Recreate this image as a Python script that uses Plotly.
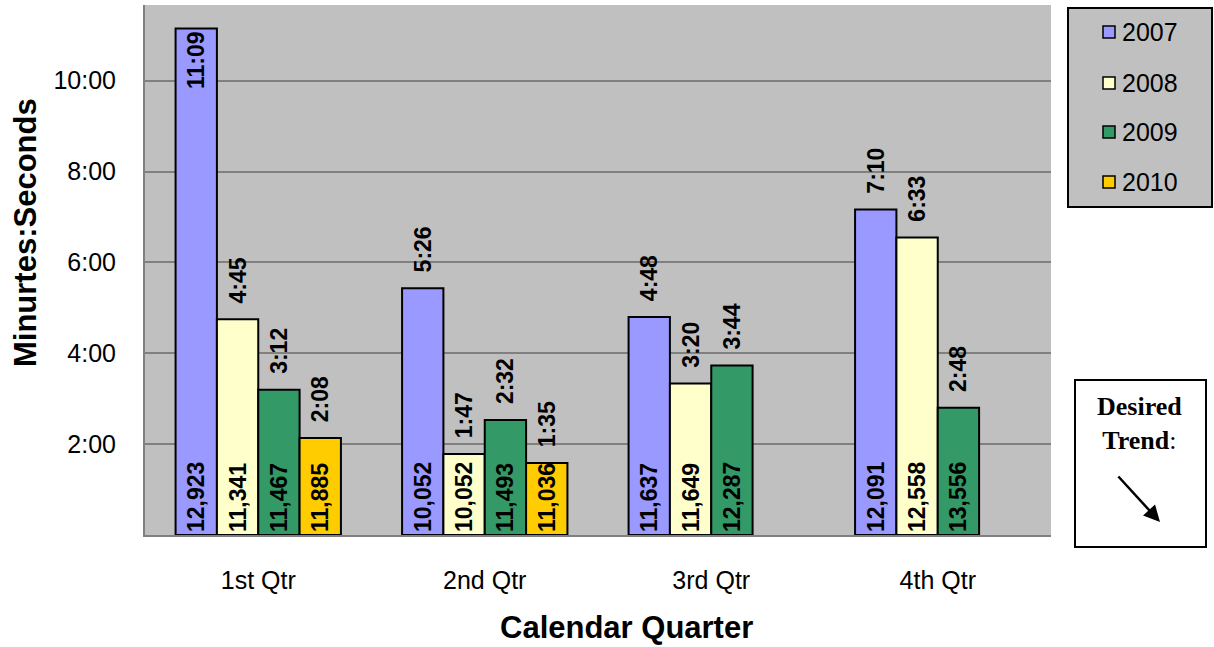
import plotly.graph_objects as go

# ---------------- data ----------------
quarters = ["1st Qtr", "2nd Qtr", "3rd Qtr", "4th Qtr"]
years = ["2007", "2008", "2009", "2010"]
# average time (seconds) per quarter
secs_2007 = [669, 326, 288, 430]
secs_2008 = [285, 107, 200, 393]
secs_2009 = [192, 152, 224, 168]
secs_2010 = [128, 95, None, None]
# call counts per quarter
count_2007 = [12923, 10052, 11637, 12091]
count_2008 = [11341, 10052, 11649, 12558]
count_2009 = [11467, 11493, 12287, 13556]
count_2010 = [11885, 11036, None, None]
ytick_vals = [120, 240, 360, 480, 600]
ytick_text = ["2:00", "4:00", "6:00", "8:00", "10:00"]

secs = [secs_2007, secs_2008, secs_2009, secs_2010]
counts = [count_2007, count_2008, count_2009, count_2010]
colors = ["#9999FF", "#FFFFCC", "#339966", "#FFCC00"]
Y_MAX = 700

FONT = "Liberation Sans, Arial, sans-serif"
SERIF = "Liberation Serif, Times New Roman, serif"

# plot-area pixel frame
L, R, T, B = 145, 1051, 5, 535
def px(x):
    return (x - L) / (R - L)
def py(y):
    return (B - y) / (B - T)

def mmss(s):
    return "" if s is None else f"{s // 60}:{s % 60:02d}"

fig = go.Figure()
for i, yr in enumerate(years):
    vals = secs[i]
    labels = []
    pos = []
    for v in vals:
        if v is None:
            labels.append("")
            pos.append("none")
        elif v > 0.85 * Y_MAX:
            labels.append(mmss(v))
            pos.append("inside")
        else:
            labels.append("\u00a0\u00a0" + mmss(v))
            pos.append("outside")
    fig.add_trace(go.Bar(
        x=quarters, y=vals, name=yr, offsetgroup=yr,
        marker=dict(color=colors[i], line=dict(color="black", width=2)),
        text=labels, textposition=pos, textangle=-90,
        insidetextanchor="end", constraintext="none", cliponaxis=False,
        textfont=dict(family=FONT, size=23, color="black", weight="bold"),
        showlegend=False,
    ))
    fig.add_trace(go.Bar(
        x=quarters, y=vals, name=yr + " count", offsetgroup=yr,
        marker=dict(color="rgba(0,0,0,0)", line=dict(width=0)),
        text=["" if c is None else f"{c:,}" for c in counts[i]],
        textposition="inside", textangle=-90, insidetextanchor="start",
        constraintext="none", cliponaxis=False,
        textfont=dict(family=FONT, size=23, color="black", weight="bold"),
        showlegend=False, hoverinfo="skip",
    ))

shapes = []
annotations = []

# legend box
shapes.append(dict(type="rect", xref="paper", yref="paper",
                   x0=px(1068), x1=px(1212), y0=py(207), y1=py(8),
                   fillcolor="#C0C0C0", line=dict(color="black", width=2), layer="above"))
for i, (yr, yc) in enumerate(zip(years, [32, 83, 132, 182])):
    shapes.append(dict(type="rect", xref="paper", yref="paper",
                       x0=px(1103), x1=px(1115), y0=py(yc + 6), y1=py(yc - 6),
                       fillcolor=colors[i], line=dict(color="black", width=1.5), layer="above"))
    annotations.append(dict(text=yr, xref="paper", yref="paper", x=px(1120), y=py(yc),
                            xanchor="left", yanchor="middle", showarrow=False,
                            font=dict(family=FONT, size=25, color="black")))

# desired trend box
shapes.append(dict(type="rect", xref="paper", yref="paper",
                   x0=px(1075), x1=px(1206), y0=py(547), y1=py(380),
                   fillcolor="white", line=dict(color="black", width=2), layer="above"))
annotations.append(dict(text="<b>Desired</b><br><b>Trend</b>:", xref="paper", yref="paper",
                        x=px(1139), y=py(423), xanchor="center", yanchor="middle",
                        showarrow=False, align="center",
                        font=dict(family=SERIF, size=26, color="black")))
annotations.append(dict(text="", xref="paper", yref="paper", x=px(1160), y=py(522),
                        ax=-43, ay=-47, showarrow=True, arrowhead=2, arrowsize=1.3,
                        arrowwidth=2.5, arrowcolor="black"))

# axis titles
annotations.append(dict(text="<b>Calendar Quarter</b>", xref="paper", yref="paper",
                        x=px(626), y=py(646.5), xanchor="center", yanchor="bottom",
                        showarrow=False, font=dict(family=FONT, size=31, color="black")))
annotations.append(dict(text="<b>Minurtes:Seconds</b>", xref="paper", yref="paper",
                        x=px(25), y=py(232), xanchor="center", yanchor="middle",
                        textangle=-90, showarrow=False,
                        font=dict(family=FONT, size=31, color="black")))

fig.update_layout(
    width=1214, height=647,
    margin=dict(l=L, r=1214 - R, t=T, b=647 - B),
    paper_bgcolor="white", plot_bgcolor="#C0C0C0",
    barmode="group", bargap=0.27, bargroupgap=0,
    font=dict(family=FONT, color="black"),
    shapes=shapes, annotations=annotations,
    showlegend=False,
)
fig.update_xaxes(showline=True, linecolor="#808080", linewidth=2, ticks="",
                 tickfont=dict(family=FONT, size=25, color="black"),
                 ticklabelstandoff=22, showgrid=False)
fig.update_yaxes(range=[0, Y_MAX], tickvals=ytick_vals, ticktext=ytick_text,
                 showline=True, linecolor="#808080", linewidth=2,
                 showgrid=True, gridcolor="#808080", gridwidth=2, zeroline=False,
                 ticks="", ticklabelstandoff=22,
                 tickfont=dict(family=FONT, size=25, color="black"))

fig.write_html("out.html")
